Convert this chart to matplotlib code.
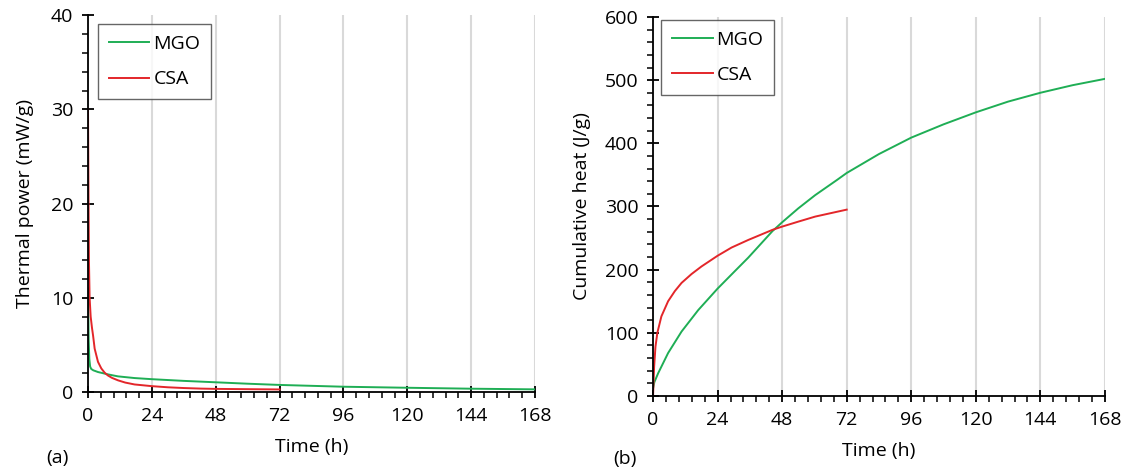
import numpy as np
import matplotlib
matplotlib.use("Agg")
import matplotlib.pyplot as plt
from matplotlib.ticker import MultipleLocator

plt.rcParams['font.family'] = ['Open Sans', 'DejaVu Sans']
plt.rcParams['font.size'] = 14

# (a) thermal power, mW/g
mgo_t = [0, 0.1, 0.25, 0.5, 0.8, 1.2, 2, 3.75, 7.5, 11.25, 17.5, 24, 36, 48, 60, 72, 96, 120, 144, 168]
mgo_p = [11, 8.5, 5.5, 3.5, 2.7, 2.45, 2.3, 2.12, 1.87, 1.66, 1.48, 1.36, 1.18, 1.03, 0.88, 0.75, 0.56, 0.45, 0.35, 0.28]
csa_t = [0, 0.1, 0.2, 0.35, 0.6, 1.0, 1.5, 1.9, 2.5, 3.75, 5, 6.25, 7.5, 9, 11.25, 14, 17.5, 24, 30, 36, 42.5, 48, 60, 72]
csa_p = [30, 25, 20, 14, 10, 8, 6.8, 6.0, 4.6, 3.2, 2.5, 2.05, 1.75, 1.5, 1.24, 1.0, 0.8, 0.62, 0.5, 0.42, 0.36, 0.33, 0.3, 0.27]

# (b) cumulative heat, J/g
mgo_tq = [0, 0.5, 1.9, 5.6, 10.6, 16.8, 24, 30.5, 35.4, 44.4, 48, 54, 60.3, 68.4, 72, 84, 96, 108, 120, 132, 144, 156, 168]
mgo_q = [12, 22, 36, 68, 102, 136, 170, 198, 219, 261, 275, 297, 318, 342, 353, 383, 409, 430, 449, 466, 480, 492, 502]
csa_tq = [0, 0.4, 0.9, 1.6, 3.1, 5.6, 8.1, 10.6, 14.3, 18, 24, 29.2, 35.4, 44.4, 47.9, 54, 60.3, 72]
csa_q = [0, 46, 78, 100, 126, 150, 166, 179, 193, 205, 222, 235, 247, 263, 268, 276, 284, 295]

green = '#1fae55'
red = '#e3262a'

fig = plt.figure(figsize=(11.24, 4.74), dpi=100)
ax1 = fig.add_axes([0.0783, 0.173, 0.3977, 0.795])
ax2 = fig.add_axes([0.581, 0.1646, 0.402, 0.7996])


def style(ax, ymax, ymaj, ymin):
    ax.set_xlim(0, 168)
    ax.set_ylim(0, ymax)
    ax.xaxis.set_major_locator(MultipleLocator(24))
    ax.xaxis.set_minor_locator(MultipleLocator(4.8))
    ax.yaxis.set_major_locator(MultipleLocator(ymaj))
    ax.yaxis.set_minor_locator(MultipleLocator(ymin))
    ax.grid(axis='x', which='major', color='#d9d9d9', lw=1.5)
    ax.set_axisbelow(True)
    for s in ['top', 'right']:
        ax.spines[s].set_visible(False)
    for s in ['left', 'bottom']:
        ax.spines[s].set_linewidth(1.3)
    ax.tick_params(which='major', direction='inout', length=9, width=1.3, labelsize=14, pad=6)
    ax.tick_params(which='minor', direction='out', length=4, width=1.1)
    ax.set_xlabel('Time (h)', fontsize=14, labelpad=10)
    leg = ax.legend(loc='upper left', fontsize=14, fancybox=False, edgecolor='#404040',
                    handlelength=2.1, handletextpad=0.2, labelspacing=0.9,
                    borderpad=0.55, borderaxespad=0)
    leg.get_frame().set_linewidth(1.0)
    return leg


ax1.plot(mgo_t, mgo_p, color=green, lw=1.4, label='MGO')
ax1.plot(csa_t, csa_p, color=red, lw=1.4, label='CSA')
leg1 = style(ax1, 40, 10, 2)
leg1.set_bbox_to_anchor((0.022, 0.976), transform=ax1.transAxes)
ax1.set_ylabel('Thermal power (mW/g)', fontsize=14, labelpad=12)

ax2.plot(mgo_tq, mgo_q, color=green, lw=1.4, label='MGO')
ax2.plot(csa_tq, csa_q, color=red, lw=1.4, label='CSA')
leg2 = style(ax2, 600, 100, 20)
leg2.set_bbox_to_anchor((0.018, 0.992), transform=ax2.transAxes)
ax2.set_ylabel('Cumulative heat (J/g)', fontsize=14, labelpad=10)

fig.text(0.051, 0.034, '(a)', fontsize=14, ha='center', va='center')
fig.text(0.556, 0.032, '(b)', fontsize=14, ha='center', va='center')

fig.savefig('out.png', dpi=100)
